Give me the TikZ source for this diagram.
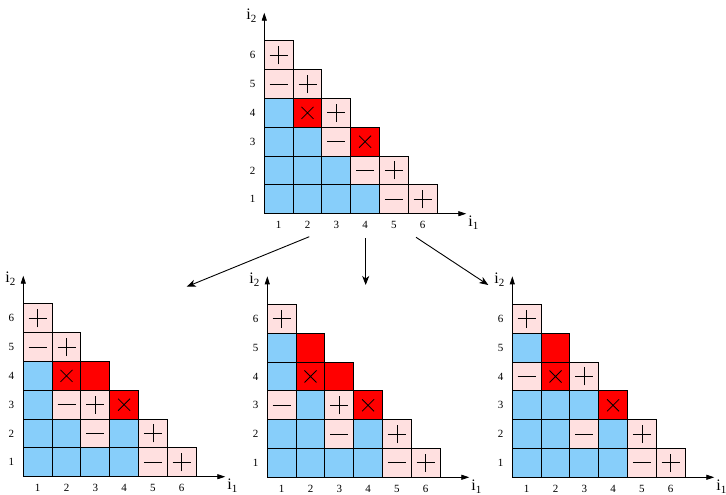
\documentclass[tikz,border=0pt]{standalone}
\usepackage{fontspec}
\setmainfont{Liberation Serif}
\usetikzlibrary{arrows.meta}
\definecolor{cblue}{RGB}{135,206,250}
\definecolor{cpink}{RGB}{255,224,224}
\definecolor{cred}{RGB}{255,0,0}
\tikzset{
  x=1pt,y=1pt,
  cellbox/.style={draw=black,line width=0.9pt},
  symline/.style={draw=black,line width=0.8pt},
  axisarrow/.style={draw=black,line width=0.8pt,-{Triangle[length=8pt,width=5pt]}},
  flowarrow/.style={draw=black,line width=0.9pt,-{Stealth[length=9pt,width=7pt,inset=2.5pt]}},
  ticklab/.style={font=\fontsize{11}{11}\selectfont,inner sep=0pt},
  axlab/.style={font=\fontsize{16}{16}\selectfont,inner sep=0pt},
  cellB/.pic={\path[cellbox,fill=cblue] (0,0) rectangle (28.8,28.8);},
  cellR/.pic={\path[cellbox,fill=cred] (0,0) rectangle (28.8,28.8);},
  cellRX/.pic={\path[cellbox,fill=cred] (0,0) rectangle (28.8,28.8);
    \draw[symline] (8.4,8.4)--(20.4,20.4) (8.4,20.4)--(20.4,8.4);},
  cellPP/.pic={\path[cellbox,fill=cpink] (0,0) rectangle (28.8,28.8);
    \draw[symline] (14.4,5.4)--(14.4,23.4) (5.4,14.4)--(23.4,14.4);},
  cellPM/.pic={\path[cellbox,fill=cpink] (0,0) rectangle (28.8,28.8);
    \draw[symline] (5.4,14.4)--(23.4,14.4);},
}
\newcommand\mygrid[4]{%
\begin{scope}[shift={(#1,#2)}]
  \foreach \cx/\cy/\ct in {#3} {
    \pic at ({(\cx-1)*28.8},{(\cy-1)*28.8}) {cell\ct};
  }
  \coordinate (#4o) at (0,0);
  \coordinate (#4ytip) at (0,201);
  \coordinate (#4xtip) at (202,0);
  \draw[axisarrow] (#4o) -- (#4ytip);
  \draw[axisarrow] (#4o) -- (#4xtip);
  \foreach \k in {1,...,6} {
    \node[ticklab] (#4x\k) at ({(\k-0.5)*28.8},-11.5) {\k};
    \node[ticklab] (#4y\k) at (-11.8,{(\k-0.5)*28.8}) {\k};
  }
  \node[axlab] (#4ione) at (209,-9) {i{\fontsize{11}{11}\selectfont\raisebox{-3pt}{1}}};
  \node[axlab] (#4itwo) at (-13,198) {i{\fontsize{11}{11}\selectfont\raisebox{-3pt}{2}}};
\end{scope}}
\begin{document}
\begin{tikzpicture}
\useasboundingbox (0,0) rectangle (726,495);
\mygrid{264.3}{281.3}{1/6/PP,1/5/PM,2/5/PP,1/4/B,2/4/RX,3/4/PP,1/3/B,2/3/B,3/3/PM,4/3/RX,1/2/B,2/2/B,3/2/B,4/2/PM,5/2/PP,1/1/B,2/1/B,3/1/B,4/1/B,5/1/PM,6/1/PP}{t}
\mygrid{23.3}{18.3}{1/6/PP,1/5/PM,2/5/PP,1/4/B,2/4/RX,3/4/R,1/3/B,2/3/PM,3/3/PP,4/3/RX,1/2/B,2/2/B,3/2/PM,4/2/B,5/2/PP,1/1/B,2/1/B,3/1/B,4/1/B,5/1/PM,6/1/PP}{l}
\mygrid{267.3}{17.7}{1/6/PP,1/5/B,2/5/R,1/4/B,2/4/RX,3/4/R,1/3/PM,2/3/B,3/3/PP,4/3/RX,1/2/B,2/2/B,3/2/PM,4/2/B,5/2/PP,1/1/B,2/1/B,3/1/B,4/1/B,5/1/PM,6/1/PP}{m}
\mygrid{512.3}{17.7}{1/6/PP,1/5/B,2/5/R,1/4/PM,2/4/RX,3/4/PP,1/3/B,2/3/B,3/3/B,4/3/RX,1/2/B,2/2/B,3/2/PM,4/2/B,5/2/PP,1/1/B,2/1/B,3/1/B,4/1/B,5/1/PM,6/1/PP}{r}
\coordinate (s1) at (309.3,258.3);
\coordinate (e1) at (186.7,208.3);
\coordinate (s2) at (365.7,256.7);
\coordinate (e2) at (365.7,210);
\coordinate (s3) at (416,257.7);
\coordinate (e3) at (488.3,210);
\draw[flowarrow] (s1) -- (e1);
\draw[flowarrow] (s2) -- (e2);
\draw[flowarrow] (s3) -- (e3);
\end{tikzpicture}
\end{document}
